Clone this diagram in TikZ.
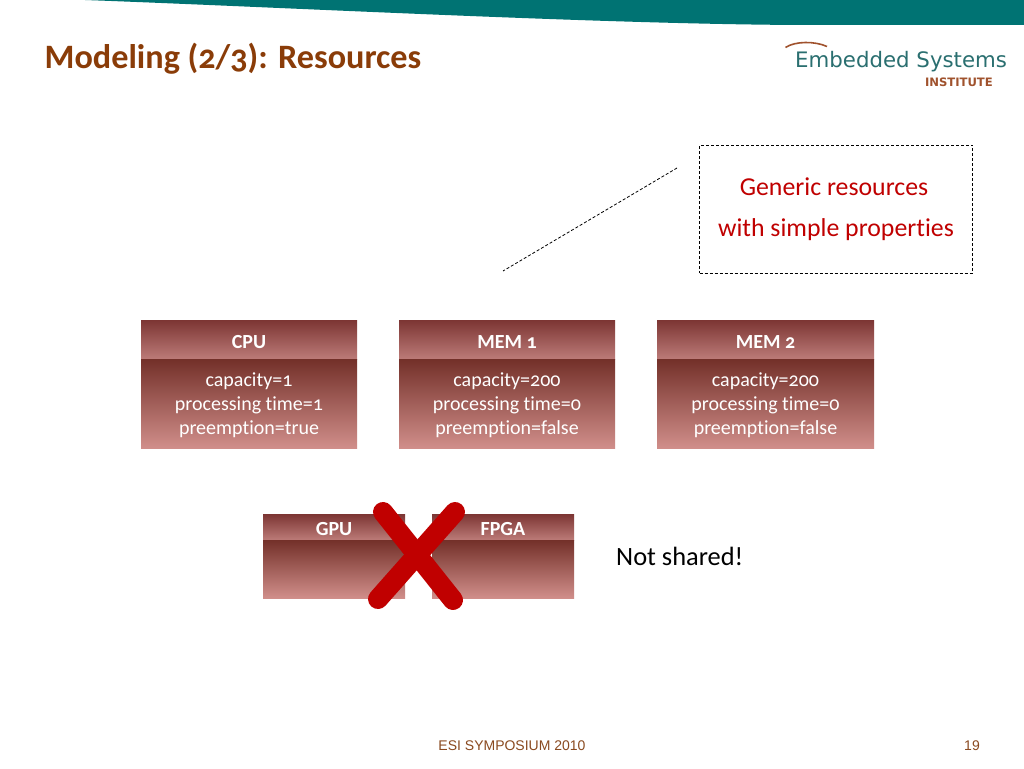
\documentclass[tikz,border=0pt]{standalone}
\usepackage{fontspec}
\setmainfont[Numbers=OldStyle,Ligatures=CommonOff]{Carlito}
\newfontfamily\footfont{Liberation Sans}
\newfontfamily\logofont{DejaVu Sans}
\definecolor{teal1}{HTML}{007373}
\definecolor{titlec}{HTML}{8A3C08}
\definecolor{redc}{HTML}{C00000}
\definecolor{logoteal}{HTML}{2A6F70}
\definecolor{logobrown}{HTML}{A0522D}
\definecolor{footc}{HTML}{8A4A20}
\newcommand\toppad{\rule{0pt}{17pt}}
\tikzset{
  x=1pt,y=-1pt,
  headbox/.style={rectangle,inner sep=0pt,outer sep=0pt,minimum width=#1,top color=headtop,bottom color=headbot,text=white,text height=17pt,text depth=0pt,font=\fontsize{20}{22}\selectfont\bfseries},
  bodybox/.style={rectangle,inner sep=0pt,outer sep=0pt,minimum width=#1,top color=bodytop,bottom color=bodybot,text=white,align=center,font=\fontsize{20}{24}\selectfont},
  redtext/.style={text=redc,font=\fontsize{25.8}{26}\selectfont},
  cross/.style={draw=redc,line width=20pt,line cap=round},
  dashline/.style={draw=black,dashed,line width=0.8pt,dash pattern=on 3pt off 2pt},
}
\definecolor{headtop}{HTML}{7C3533}
\definecolor{headbot}{HTML}{BC7B78}
\definecolor{bodytop}{HTML}{733029}
\definecolor{bodybot}{HTML}{D08E8A}
\begin{document}
\begin{tikzpicture}
\useasboundingbox (0,0) rectangle (1024,768);
\fill[white] (0,0) rectangle (1024,768);
% banner
\fill[teal1] (85,0) .. controls (300,8) and (600,24) .. (800,25) -- (1024,25) -- (1024,0) -- cycle;
% title
\node[anchor=base west,inner sep=0pt,text=titlec,font=\fontsize{34.2}{34}\selectfont\bfseries] (title) at (44.5,68) {Modeling (2/3): Resources};
% logo
\draw[draw=logobrown,line width=1.6pt] (785.5,47.5) .. controls (795,41) and (815,41) .. (827,46.5);
\node[anchor=base west,inner sep=0pt,text=logoteal,font=\logofont\fontsize{21.3}{24}\selectfont] (logo) at (795,67) {Embedded Systems};
\node[anchor=base east,inner sep=0pt,text=logobrown,font=\logofont\fontsize{11.6}{12}\selectfont\bfseries] (inst) at (993,86) {INSTITUTE};
% callout
\node[rectangle,draw=black,dashed,line width=0.8pt,dash pattern=on 3pt off 2pt,minimum width=273pt,minimum height=128pt,inner sep=0pt] (call) at (836,209) {};
\node[redtext] (c1) at (834,187) {Generic resources};
\node[redtext] (c2) at (836,230) {with simple properties};
\coordinate (d1) at (677,168);
\coordinate (d2) at (503,271);
\draw[dashline] (d1) -- (d2);
% boxes
\node[headbox=216pt,minimum height=39pt] (cpuh) at (249,339.5) {CPU};
\node[bodybox=216pt,minimum height=89pt] (cpub) at (249,403.5) {\toppad capacity=1\\processing time=1\\preemption=true};
\node[headbox=216pt,minimum height=39pt] (m1h) at (507,339.5) {MEM 1};
\node[bodybox=216pt,minimum height=89pt] (m1b) at (507,403.5) {\toppad capacity=200\\processing time=0\\preemption=false};
\node[headbox=217pt,minimum height=39pt] (m2h) at (765.5,339.5) {MEM 2};
\node[bodybox=217pt,minimum height=89pt] (m2b) at (765.5,403.5) {\toppad capacity=200\\processing time=0\\preemption=false};
\node[headbox=142pt,minimum height=26pt] (gpuh) at (334,527) {GPU};
\node[bodybox=142pt,minimum height=58pt] (gpub) at (334,569) {};
\node[headbox=142pt,minimum height=26pt] (fpgah) at (503,527) {FPGA};
\node[bodybox=142pt,minimum height=58pt] (fpgab) at (503,569) {};
% X
\coordinate (x1) at (383,512);
\coordinate (x2) at (453,600);
\coordinate (x3) at (455,512);
\coordinate (x4) at (378,599);
\draw[cross] (x1) -- (x2);
\draw[cross] (x3) -- (x4);
\node[anchor=base west,inner sep=0pt,text=black,font=\fontsize{26.4}{26}\selectfont] (ns) at (616,565) {Not shared!};
% footer
\node[anchor=base,inner sep=0pt,text=footc,font=\footfont\fontsize{14}{14}\selectfont] (foot) at (512,750) {ESI SYMPOSIUM 2010};
\node[anchor=base,inner sep=0pt,text=footc,font=\footfont\fontsize{14}{14}\selectfont] (page) at (972,750) {19};
\end{tikzpicture}
\end{document}
